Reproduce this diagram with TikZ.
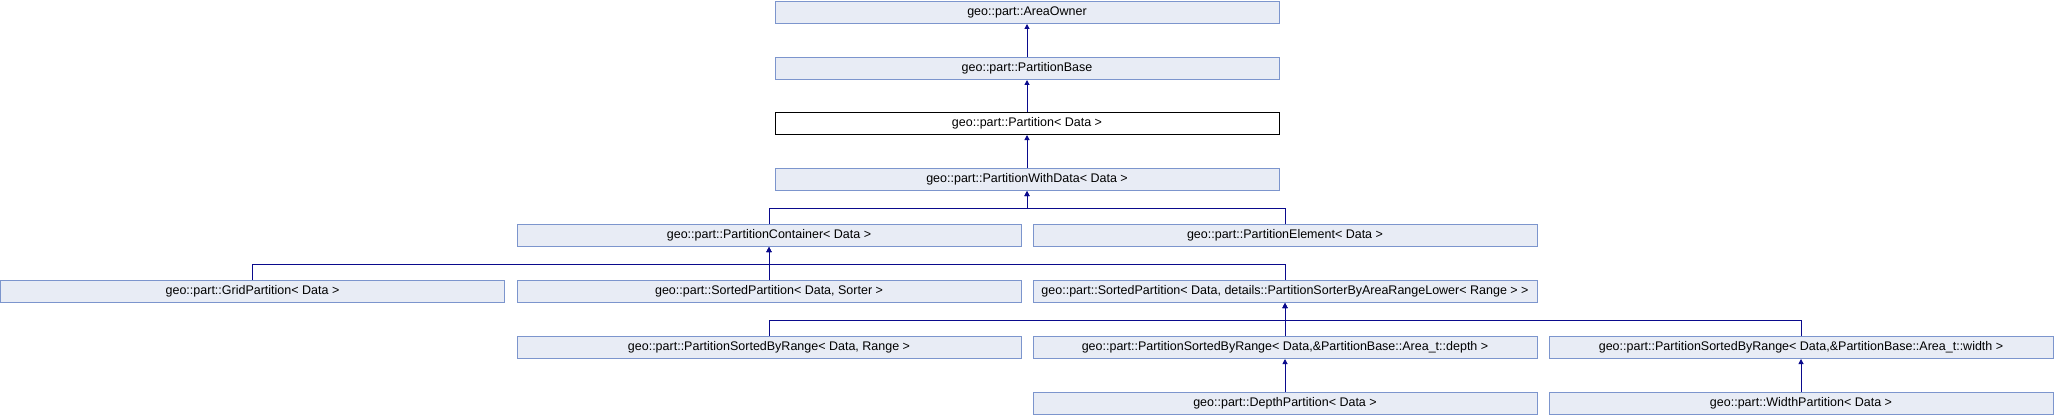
\documentclass[tikz,border=0pt]{standalone}
\usepackage{fontspec}
\setmainfont{Liberation Sans}
\usetikzlibrary{arrows.meta,calc}
\definecolor{boxfill}{HTML}{E8ECF5}
\definecolor{boxline}{HTML}{7C95CD}
\definecolor{edgecol}{HTML}{0A0A8C}
\tikzset{
  box/.style={draw=boxline, fill=boxfill, line width=1pt, minimum width=504pt, minimum height=22pt, inner sep=0pt, font=\fontsize{12.5pt}{14pt}\selectfont, text height=9pt, text depth=2.5pt},
  curbox/.style={box, draw=black, fill=white},
  edge/.style={draw=edgecol, line width=1pt, -{Triangle[length=5pt,width=5pt]}},
}
\begin{document}
\begin{tikzpicture}[x=1pt,y=1pt]
\useasboundingbox (0,0) rectangle (2054,416);
\def\ca{252.5}\def\cb{769}\def\cc{1285}\def\cd{1801}\def\cm{1027}
\node[box] (ao) at (\cm,403.5) {geo::part::AreaOwner};
\node[box] (pb) at (\cm,347.5) {geo::part::PartitionBase};
\node[curbox] (pa) at (\cm,292.5) {geo::part::Partition< Data >};
\node[box] (pwd) at (\cm,236.5) {geo::part::PartitionWithData< Data >};
\node[box] (pc) at (\cb,180.5) {geo::part::PartitionContainer< Data >};
\node[box] (pe) at (\cc,180.5) {geo::part::PartitionElement< Data >};
\node[box] (gp) at (\ca,124.5) {geo::part::GridPartition< Data >};
\node[box] (sp) at (\cb,124.5) {geo::part::SortedPartition< Data, Sorter >};
\node[box] (spl) at (\cc,124.5) {geo::part::SortedPartition< Data, details::PartitionSorterByAreaRangeLower< Range > >};
\node[box] (psr) at (\cb,68.5) {geo::part::PartitionSortedByRange< Data, Range >};
\node[box] (psd) at (\cc,68.5) {geo::part::PartitionSortedByRange< Data,\&PartitionBase::Area\_t::depth >};
\node[box] (psw) at (\cd,68.5) {geo::part::PartitionSortedByRange< Data,\&PartitionBase::Area\_t::width >};
\node[box] (dp) at (\cc,12.5) {geo::part::DepthPartition< Data >};
\node[box] (wp) at (\cd,12.5) {geo::part::WidthPartition< Data >};
\path[edge] (pb) -- (ao);
\path[edge] (pa) -- (pb);
\path[edge] (pwd) -- (pa);
\coordinate (j1) at ([yshift=-17pt]pwd.south);
\coordinate (j2) at ([yshift=-17pt]pc.south);
\coordinate (j3) at ([yshift=-17pt]spl.south);
\path[edge] (pc.north) |- (j1) -- (pwd.south);
\path[edge] (pe.north) |- (j1) -- (pwd.south);
\path[edge] (gp.north) |- (j2) -- (pc.south);
\path[edge] (sp.north) -- (pc.south);
\path[edge] (spl.north) |- (j2) -- (pc.south);
\path[edge] (psr.north) |- (j3) -- (spl.south);
\path[edge] (psd.north) -- (spl.south);
\path[edge] (psw.north) |- (j3) -- (spl.south);
\path[edge] (dp) -- (psd);
\path[edge] (wp) -- (psw);
\end{tikzpicture}
\end{document}
